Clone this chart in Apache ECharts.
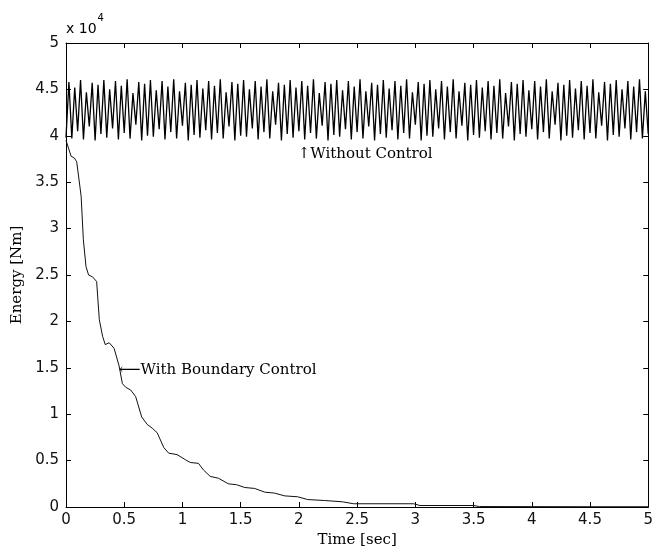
<!DOCTYPE html>
<html>
<head>
<meta charset="utf-8">
<script src="https://cdn.jsdelivr.net/npm/echarts@6/dist/echarts.min.js"></script>
<style>
html,body{margin:0;padding:0;background:#fff;}
#chart{width:656px;height:557px;}
</style>
</head>
<body>
<div id="chart"></div>
<script>
// Tick labels (units of x 10^4 Nm for energy)
var xTicks = [0, 0.5, 1, 1.5, 2, 2.5, 3, 3.5, 4, 4.5, 5];
var yTicks = [0, 0.5, 1, 1.5, 2, 2.5, 3, 3.5, 4, 4.5, 5];

// Without control: energy sampled every 0.025 s from t = 0 to 5 s (x 10^4 Nm)
var noCtrlStep = 0.025;
var noCtrlEnergy = [
  3.98,4.58,3.97,4.52,4.05,4.60,3.96,4.47,4.10,4.57,
  3.95,4.55,4.02,4.60,3.98,4.50,4.08,4.59,3.96,4.54,
  4.03,4.61,3.97,4.46,4.12,4.58,3.95,4.56,4.00,4.60,
  3.99,4.49,4.07,4.59,3.96,4.53,4.04,4.61,3.97,4.48,
  4.11,4.57,3.95,4.55,4.01,4.60,3.98,4.51,4.06,4.59,
  3.96,4.54,4.03,4.61,3.97,4.47,4.10,4.58,3.95,4.56,
  4.00,4.60,3.99,4.50,4.08,4.59,3.96,4.53,4.04,4.61,
  3.97,4.48,4.12,4.57,3.95,4.55,4.02,4.60,3.98,4.52,
  4.05,4.59,3.96,4.54,4.03,4.61,3.97,4.46,4.11,4.58,
  3.95,4.56,4.01,4.60,3.99,4.49,4.07,4.59,3.96,4.53,
  4.04,4.61,3.97,4.48,4.10,4.57,3.95,4.55,4.02,4.60,
  3.98,4.51,4.06,4.59,3.96,4.54,4.03,4.61,3.97,4.47,
  4.12,4.58,3.95,4.56,4.00,4.60,3.99,4.50,4.08,4.59,
  3.96,4.53,4.04,4.61,3.97,4.48,4.11,4.57,3.95,4.55,
  4.01,4.60,3.98,4.52,4.05,4.59,3.96,4.54,4.03,4.61,
  3.97,4.46,4.10,4.58,3.95,4.56,4.02,4.60,3.99,4.49,
  4.07,4.59,3.96,4.53,4.04,4.61,3.97,4.48,4.12,4.57,
  3.95,4.55,4.00,4.60,3.98,4.51,4.06,4.59,3.96,4.54,
  4.03,4.61,3.97,4.47,4.11,4.58,3.95,4.56,4.01,4.60,
  3.99,4.50,4.08,4.59,3.96,4.53,4.04,4.61,3.97,4.48,
  4.02
];

// With boundary control (x 10^4 Nm)
var ctrlTime = [0, 0.044, 0.072, 0.092, 0.13, 0.149, 0.172, 0.194, 0.228, 0.263,
  0.286, 0.314, 0.337, 0.371, 0.413, 0.456, 0.484, 0.513, 0.556, 0.598,
  0.65, 0.697, 0.74, 0.783, 0.84, 0.882, 0.953, 1.025, 1.067, 1.138,
  1.18, 1.238, 1.309, 1.394, 1.465, 1.536, 1.62, 1.707, 1.79, 1.877,
  1.99, 2.076, 2.22, 2.374, 2.47, 2.985, 3.04, 3.5, 3.55, 4.0, 4.5, 5.0];
var ctrlEnergy = [3.95, 3.78, 3.76, 3.72, 3.35, 2.88, 2.59, 2.50, 2.48, 2.43,
  2.02, 1.84, 1.75, 1.77, 1.71, 1.52, 1.33, 1.29, 1.26, 1.19,
  0.97, 0.89, 0.85, 0.80, 0.64, 0.58, 0.565, 0.51, 0.48, 0.47,
  0.40, 0.33, 0.31, 0.25, 0.24, 0.21, 0.20, 0.16, 0.15, 0.12,
  0.11, 0.08, 0.07, 0.056, 0.035, 0.035, 0.016, 0.016, 0.005, 0.004, 0.003, 0.003];

var noCtrlData = noCtrlEnergy.map(function (v, i) { return [+(i * noCtrlStep).toFixed(3), v]; });
var ctrlData = ctrlTime.map(function (t, i) { return [t, ctrlEnergy[i]]; });

var serif = 'DejaVu Serif';
var sans = 'DejaVu Sans';

function fmt(v) { return String(v); }

var tickStyle = { inside: true, length: 5, lineStyle: { color: '#000', width: 1 } };
var lineStyle = { color: '#000', width: 1 };

var chart = echarts.init(document.getElementById('chart'), null, { renderer: 'canvas' });
chart.setOption({
  backgroundColor: '#fff',
  animation: false,
  grid: { left: 66, right: 3, top: 43, bottom: 50, containLabel: false },
  xAxis: [{
    type: 'value', min: xTicks[0], max: xTicks[xTicks.length - 1], interval: 0.5,
    name: 'Time [sec]', nameLocation: 'middle', nameGap: 22,
    nameTextStyle: { fontFamily: serif, fontSize: 15, color: '#000' },
    axisLine: { show: true, lineStyle: lineStyle },
    axisTick: tickStyle,
    axisLabel: { margin: 6, fontFamily: sans, fontSize: 15, color: '#111', formatter: fmt },
    splitLine: { show: false }
  }, {
    type: 'value', position: 'top', min: xTicks[0], max: xTicks[xTicks.length - 1], interval: 0.5,
    axisLine: { show: true, onZero: false, lineStyle: lineStyle },
    axisTick: tickStyle,
    axisLabel: { show: false },
    splitLine: { show: false }
  }],
  yAxis: [{
    type: 'value', min: yTicks[0], max: yTicks[yTicks.length - 1], interval: 0.5,
    name: 'Energy [Nm]', nameLocation: 'middle', nameGap: 41, nameRotate: 90,
    nameTextStyle: { fontFamily: serif, fontSize: 15, color: '#000' },
    axisLine: { show: true, lineStyle: lineStyle },
    axisTick: tickStyle,
    axisLabel: { margin: 7, fontFamily: sans, fontSize: 15, color: '#111', formatter: fmt },
    splitLine: { show: false }
  }, {
    type: 'value', position: 'right', min: yTicks[0], max: yTicks[yTicks.length - 1], interval: 0.5,
    axisLine: { show: true, onZero: false, lineStyle: lineStyle },
    axisTick: tickStyle,
    axisLabel: { show: false },
    splitLine: { show: false }
  }],
  graphic: [{
    type: 'text', left: 66, top: 13,
    style: {
      text: '{a|x 10}{b|4}',
      rich: {
        a: { fontFamily: sans, fontSize: 14, fill: '#000', padding: [9, 0, 0, 0], verticalAlign: 'bottom' },
        b: { fontFamily: sans, fontSize: 10, fill: '#000', verticalAlign: 'top', padding: [0, 0, 0, 1] }
      }
    }
  }],
  series: [{
    type: 'line', name: 'Without Control', data: noCtrlData,
    showSymbol: false, symbol: 'none', clip: true,
    lineStyle: { color: '#000', width: 1.3 },
    markPoint: {
      symbol: 'circle', symbolSize: 0, silent: true,
      data: [{ coord: [1.99, 3.80], value: 0 }],
      label: {
        show: true, position: 'right', distance: 0,
        formatter: '↑Without Control',
        fontFamily: serif, fontSize: 15, color: '#000'
      }
    }
  }, {
    type: 'line', name: 'With Boundary Control', data: ctrlData,
    showSymbol: false, symbol: 'none', clip: true,
    lineStyle: { color: '#111', width: 1 },
    markPoint: {
      symbol: 'circle', symbolSize: 0, silent: true,
      data: [{ coord: [0.456, 1.48], value: 0 }],
      label: {
        show: true, position: 'right', distance: 0,
        formatter: '⟵With Boundary Control',
        fontFamily: serif, fontSize: 15, color: '#000'
      }
    }
  }]
});
</script>
</body>
</html>
